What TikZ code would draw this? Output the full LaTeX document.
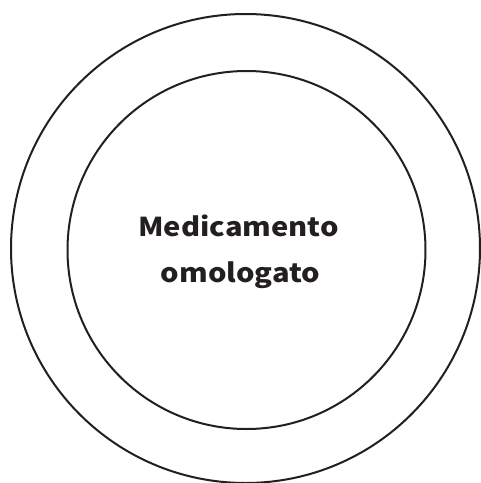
\documentclass[tikz,border=0pt]{standalone}
\usepackage{fontspec}
\newfontfamily\jp[FakeStretch=1.12]{Noto Sans CJK JP}
\definecolor{ink}{HTML}{231F20}
\begin{document}
\begin{tikzpicture}[x=1pt,y=-1pt,
  ring/.style={draw=ink,line width=2pt},
  lbl/.style={font=\jp\bfseries\fontsize{26}{30}\selectfont,text=ink,inner sep=0pt,anchor=base}]
\useasboundingbox (0,0) rectangle (481,483);
\draw[ring] (245.5,248.5) circle (234.5);
\draw[ring] (246.5,250) circle (179);
\node[lbl] (t1) at (238.5,236) {Medicamento};
\node[lbl] (t2) at (240.5,282) {omologato};
\end{tikzpicture}
\end{document}
